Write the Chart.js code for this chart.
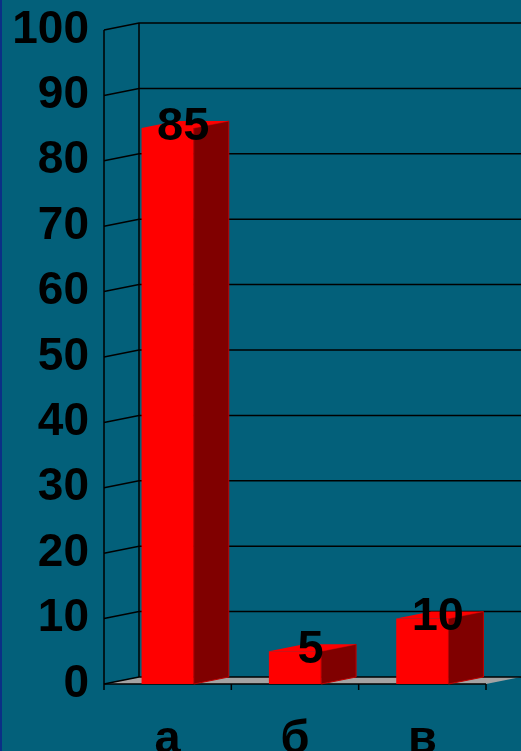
<!DOCTYPE html>
<html>
<head>
<meta charset="utf-8">
<script src="https://cdn.jsdelivr.net/npm/chart.js@4.4.1/dist/chart.umd.min.js"></script>
<style>
  html, body {
    margin: 0;
    padding: 0;
    background: #03607a;
  }
  #wrap {
    width: 519px;
    height: 751px;
    border-left: 2px solid #0b2f86;
  }
</style>
</head>
<body>
<div id="wrap"><canvas id="chart" width="519" height="751"></canvas></div>
<script>
const categories = ["а", "б", "в"];
const values = [85, 5, 10];
const yTicks = [0, 10, 20, 30, 40, 50, 60, 70, 80, 90, 100];

// depth of the fake 3d effect
const DX = 35;
const DY = -7;

const threeD = {
  id: "threeD",
  beforeDatasetsDraw(chart) {
    let ctx = chart.ctx;
    let y = chart.scales.y;
    let { left, right, bottom } = chart.chartArea;
    ctx.save();

    // floor
    ctx.fillStyle = "#a3a3a3";
    ctx.beginPath();
    ctx.moveTo(left, bottom);
    ctx.lineTo(right, bottom);
    ctx.lineTo(right + DX, bottom + DY);
    ctx.lineTo(left + DX, bottom + DY);
    ctx.closePath();
    ctx.fill();

    ctx.strokeStyle = "#000";
    ctx.lineWidth = 1.5;
    yTicks.forEach((v) => {
      let py = y.getPixelForValue(v);
      ctx.beginPath();
      ctx.moveTo(left, py);
      ctx.lineTo(left + DX, py + DY);
      ctx.lineTo(chart.width, py + DY);
      ctx.stroke();
    });

    // side walls verticals
    ctx.beginPath();
    ctx.moveTo(left, y.getPixelForValue(100));
    ctx.lineTo(left, bottom);
    ctx.moveTo(left + DX, y.getPixelForValue(100) + DY);
    ctx.lineTo(left + DX, bottom + DY);
    ctx.stroke();

    // front floor edge and ticks
    ctx.beginPath();
    ctx.moveTo(left, bottom);
    ctx.lineTo(right, bottom);
    let step = (right - left) / categories.length;
    for (let i = 0; i <= categories.length; i++) {
      ctx.moveTo(left + step * i, bottom);
      ctx.lineTo(left + step * i, bottom + 6);
    }
    ctx.stroke();
    ctx.restore();
  },
  afterDatasetsDraw(chart) {
    let ctx = chart.ctx;
    let meta = chart.getDatasetMeta(0);
    ctx.save();
    meta.data.forEach((bar, i) => {
      let x1 = bar.x - bar.width / 2;
      let x2 = bar.x + bar.width / 2;
      let top = bar.y;
      let base = bar.base;

      // side face
      ctx.fillStyle = "#800000";
      ctx.strokeStyle = "#c00000";
      ctx.lineWidth = 1;
      ctx.beginPath();
      ctx.moveTo(x2, top);
      ctx.lineTo(x2 + DX, top + DY);
      ctx.lineTo(x2 + DX, base + DY);
      ctx.lineTo(x2, base);
      ctx.closePath();
      ctx.fill();
      ctx.stroke();

      // top face
      ctx.fillStyle = "#ff0000";
      ctx.beginPath();
      ctx.moveTo(x1, top);
      ctx.lineTo(x2, top);
      ctx.lineTo(x2 + DX, top + DY);
      ctx.lineTo(x1 + DX, top + DY);
      ctx.closePath();
      ctx.fill();

      // value label
      ctx.fillStyle = "#000";
      ctx.font = "bold 47px 'Liberation Sans', Arial, sans-serif";
      ctx.textAlign = "center";
      ctx.textBaseline = "middle";
      ctx.fillText(String(values[i]), bar.x + DX / 2 - 2, top + DY / 2 + 2);
    });
    ctx.restore();
  },
};

new Chart(document.getElementById("chart"), {
  type: "bar",
  data: {
    labels: categories,
    datasets: [
      {
        data: values,
        backgroundColor: "#ff0000",
        borderWidth: 0,
        categoryPercentage: 1,
        barPercentage: 0.41,
      },
    ],
  },
  options: {
    responsive: false,
    animation: false,
    layout: {
      padding: { top: 30, right: 35, left: 0, bottom: 0 },
    },
    plugins: {
      legend: { display: false },
      tooltip: { enabled: false },
    },
    scales: {
      x: {
        grid: { display: false, drawTicks: false },
        border: { display: false },
        ticks: {
          color: "#000",
          padding: 28,
          font: { family: "'Liberation Sans', Arial, sans-serif", size: 47, weight: "bold" },
        },
        afterFit: (scale) => {
          scale.height = 67;
        },
      },
      y: {
        min: 0,
        max: 100,
        grid: { display: false, drawTicks: false },
        border: { display: false },
        ticks: {
          stepSize: 10,
          autoSkip: false,
          color: "#000",
          padding: 15,
          font: { family: "'Liberation Sans', Arial, sans-serif", size: 46, weight: "bold", lineHeight: 0.6 },
        },
        afterFit: (scale) => {
          scale.width = 102;
        },
      },
    },
  },
  plugins: [threeD],
});
</script>
</body>
</html>
